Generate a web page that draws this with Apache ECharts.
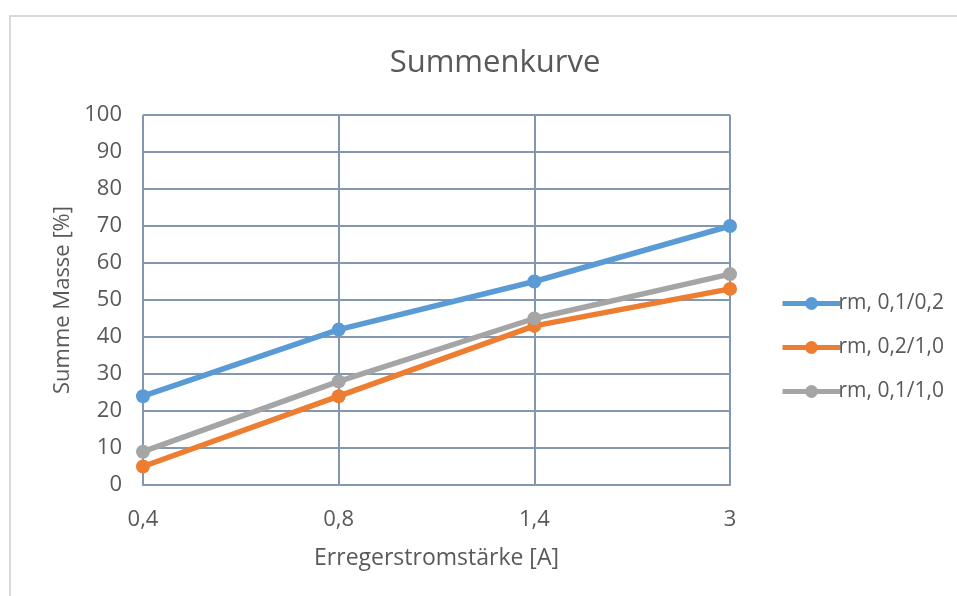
<!DOCTYPE html>
<html>
<head>
<meta charset="utf-8">
<script src="https://cdn.jsdelivr.net/npm/echarts@6/dist/echarts.min.js"></script>
<style>
  html, body { margin: 0; padding: 0; background: #ffffff; }
  #frame { position: absolute; left: 9px; top: 15px; width: 960px; height: 600px;
           border-left: 2px solid #d9d9d9; border-top: 2px solid #d9d9d9; box-sizing: border-box; }
  #chart { position: absolute; left: 0; top: 0; width: 957px; height: 596px; }
</style>
</head>
<body>
<div id="frame"></div>
<div id="chart"></div>
<script>
// Excitation current categories and cumulative mass values
const categories = ['0,4', '0,8', '1,4', '3'];
const yTicks = [0, 10, 20, 30, 40, 50, 60, 70, 80, 90, 100];
const seriesNames = ['rm, 0,1/0,2', 'rm, 0,2/1,0', 'rm, 0,1/1,0'];
const rm01_02 = [24, 42, 55, 70];
const rm02_10 = [5, 24, 43, 53];
const rm01_10 = [9, 28, 45, 57];

const textColor = '#595959';
const gridColor = '#8497b0';
const fontFamily = '"Open Sans", Lato, sans-serif';
const colors = ['#5b9bd5', '#ed7d31', '#a5a5a5'];

const chart = echarts.init(document.getElementById('chart'), null, { renderer: 'canvas' });

function lineSeries(name, data, color) {
  return {
    name: name,
    type: 'line',
    data: data,
    symbol: 'circle',
    symbolSize: 14,
    lineStyle: { width: 5.5, color: color },
    itemStyle: { color: color },
    emphasis: { disabled: true },
    animation: false
  };
}

chart.setOption({
  animation: false,
  color: colors,
  title: {
    text: 'Summenkurve',
    left: 490,
    textAlign: 'center',
    top: 43,
    textStyle: { fontFamily: fontFamily, fontSize: 31, fontWeight: 'normal', color: textColor }
  },
  grid: { left: 143, right: 227, top: 115, bottom: 111, containLabel: false },
  legend: {
    orient: 'vertical',
    left: 775,
    top: 288,
    itemWidth: 58,
    itemHeight: 16,
    itemGap: 23,
    lineStyle: { width: 5 },
    textStyle: { fontFamily: fontFamily, fontSize: 21, color: textColor, padding: [0, 0, 0, -7] },
    data: seriesNames
  },
  xAxis: {
    type: 'category',
    data: categories,
    boundaryGap: false,
    name: 'Erregerstromstärke [A]',
    nameLocation: 'middle',
    nameGap: 62,
    nameTextStyle: { fontFamily: fontFamily, fontSize: 23, color: textColor },
    axisLine: { show: true, lineStyle: { color: gridColor, width: 2 } },
    axisTick: { show: false },
    axisLabel: { fontFamily: fontFamily, fontSize: 22, color: textColor, margin: 24 },
    splitLine: { show: true, lineStyle: { color: gridColor, width: 2 } }
  },
  yAxis: {
    type: 'value',
    min: yTicks[0],
    max: yTicks[yTicks.length - 1],
    interval: 10,
    name: 'Summe Masse [%]',
    nameLocation: 'middle',
    nameGap: 68,
    nameTextStyle: { fontFamily: fontFamily, fontSize: 22, color: textColor },
    axisLine: { show: false },
    axisTick: { show: false },
    axisLabel: { fontFamily: fontFamily, fontSize: 22, color: textColor, margin: 21 },
    splitLine: { show: true, lineStyle: { color: gridColor, width: 2 } }
  },
  series: [
    lineSeries(seriesNames[0], rm01_02, colors[0]),
    lineSeries(seriesNames[1], rm02_10, colors[1]),
    lineSeries(seriesNames[2], rm01_10, colors[2])
  ]
});
</script>
</body>
</html>
